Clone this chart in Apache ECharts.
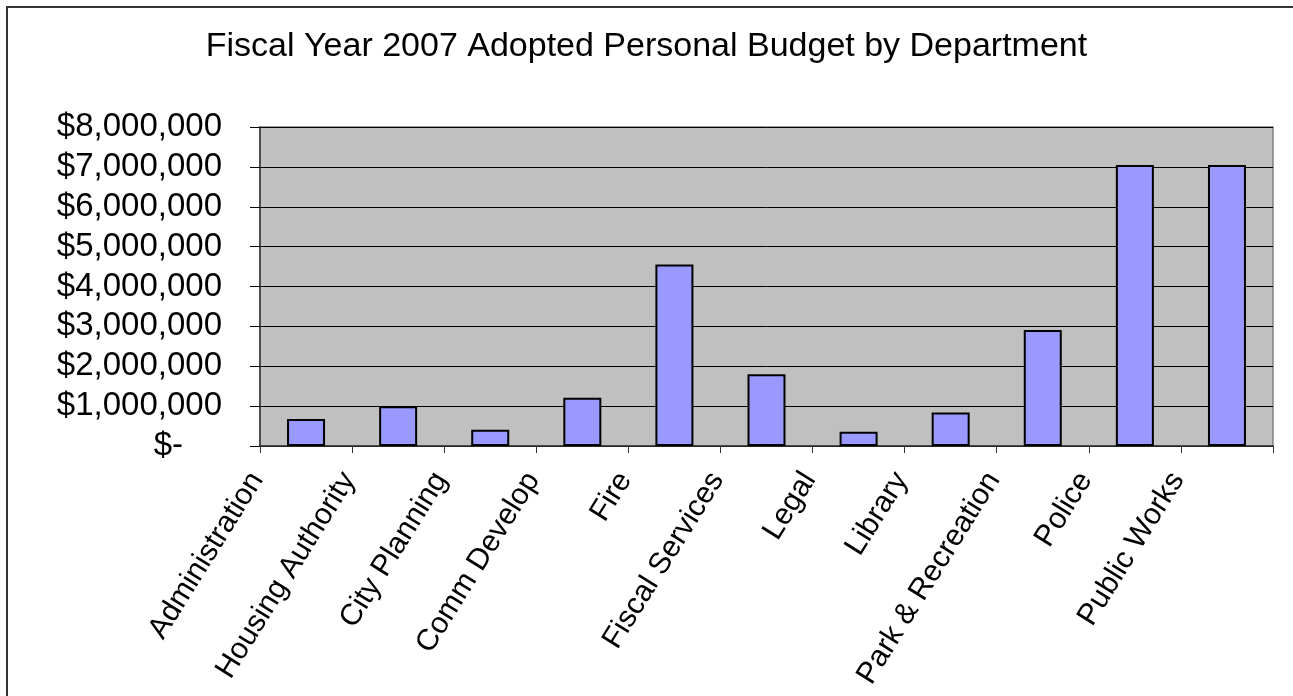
<!DOCTYPE html>
<html>
<head>
<meta charset="utf-8">
<title>Fiscal Year 2007 Adopted Personal Budget by Department</title>
<script src="https://cdn.jsdelivr.net/npm/echarts@6/dist/echarts.min.js"></script>
<style>
    html, body { margin: 0; padding: 0; background: #fff; overflow: hidden; }
    #frame {
        position: absolute; left: 6px; top: 6px; width: 1400px; height: 800px;
        border-left: 2px solid #333; border-top: 2px solid #333;
    }
    #chart { position: absolute; left: 0; top: 0; width: 1293px; height: 696px; }
</style>
</head>
<body>
<div id="frame"></div>
<div id="chart"></div>
<script>
// 部门预算柱状图
var departments = ['Administration', 'Housing Authority', 'City Planning', 'Comm Develop', 'Fire',
    'Fiscal Services', 'Legal', 'Library', 'Park & Recreation', 'Police', 'Public Works'];
var budget = [680000, 1000000, 410000, 1210000, 4550000, 1800000, 360000, 840000, 2910000, 7050000, 7050000];
var yTicks = [0, 1000000, 2000000, 3000000, 4000000, 5000000, 6000000, 7000000, 8000000];

var font = 'Liberation Sans, Arial, sans-serif';

function moneyLabel(v) {
    if (v === 0) {
        return '{z|$-}';
    }
    return '$' + v.toLocaleString('en-US');
}

var myChart = echarts.init(document.getElementById('chart'), null, {renderer: 'canvas'});

var option = {
    animation: false,
    title: {
        text: 'Fiscal Year 2007 Adopted Personal Budget by Department',
        left: 'center',
        top: 25,
        textStyle: {
            fontFamily: font,
            fontSize: 34,
            fontWeight: 'normal',
            color: '#000'
        }
    },
    grid: {
        left: 260,
        right: 20,
        top: 127,
        bottom: 250,
        show: true,
        backgroundColor: '#C0C0C0',
        borderColor: '#808080',
        borderWidth: 1.5
    },
    xAxis: {
        type: 'category',
        data: departments,
        axisLine: { lineStyle: { color: '#333', width: 1.5 } },
        axisTick: { show: true, length: 7, lineStyle: { color: '#333' } },
        axisLabel: {
            rotate: 58,
            margin: -50,
            padding: [0, 93, 0, 0],
            fontFamily: font,
            fontSize: 30,
            color: '#000',
            interval: 0
        }
    },
    yAxis: {
        type: 'value',
        min: yTicks[0],
        max: yTicks[yTicks.length - 1],
        interval: 1000000,
        axisLine: { show: true, lineStyle: { color: '#333', width: 1.5 } },
        axisTick: { show: true, length: 10, lineStyle: { color: '#000' } },
        splitLine: { show: true, lineStyle: { color: '#000', width: 1 } },
        axisLabel: {
            margin: 38,
            fontFamily: font,
            fontSize: 33,
            color: '#000',
            formatter: moneyLabel,
            rich: {
                z: {
                    fontFamily: font,
                    fontSize: 33,
                    color: '#000',
                    padding: [0, 39, 0, 0]
                }
            }
        }
    },
    series: [
        {
            type: 'bar',
            data: budget,
            barWidth: 38,
            itemStyle: {
                color: '#9999FF',
                borderColor: '#000',
                borderWidth: 2
            }
        }
    ]
};

myChart.setOption(option);
</script>
</body>
</html>
